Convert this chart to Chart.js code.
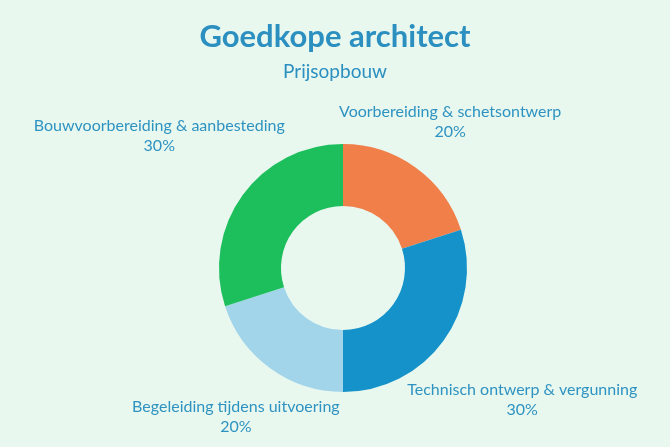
<!DOCTYPE html>
<html>
<head>
<meta charset="utf-8">
<script src="https://cdn.jsdelivr.net/npm/chart.js@4"></script>
<style>
  html, body { margin: 0; padding: 0; background: #e8f8ef; }
  #wrap { width: 670px; height: 447px; }
</style>
</head>
<body>
<div id="wrap"><canvas id="chart" width="670" height="447"></canvas></div>
<script>
const titleText = "Goedkope architect";
const subtitleText = "Prijsopbouw";
const categories = [
    "Voorbereiding & schetsontwerp",
    "Technisch ontwerp & vergunning",
    "Begeleiding tijdens uitvoering",
    "Bouwvoorbereiding & aanbesteding"
];
const shares = [20, 30, 20, 30];
const sliceColors = ["#f07f4a", "#1592c9", "#a3d5ea", "#1dbf5c"];

const textColor = "#2f93c2";

// labels outside the ring, pushed out along the slice middle until the text box clears the ring
const outsideLabels = {
    id: "outsideLabels",
    afterDraw(chart) {
        const ctx = chart.ctx;
        const meta = chart.getDatasetMeta(0);
        ctx.save();
        ctx.font = "16px Lato";
        ctx.fillStyle = textColor;
        ctx.textAlign = "center";
        ctx.textBaseline = "middle";
        const lineH = 19.5;
        meta.data.forEach((arc, i) => {
            const p = arc.getProps(["x", "y", "startAngle", "endAngle", "outerRadius"], true);
            const mid = (p.startAngle + p.endAngle) / 2;
            const lines = [categories[i], shares[i] + "%"];
            const hw = Math.max(...lines.map(l => ctx.measureText(l).width)) / 2;
            const hh = lineH;
            const target = p.outerRadius + 4;
            const cosA = Math.cos(mid), sinA = Math.sin(mid);
            let lo = 0, hi = 400;
            for (let k = 0; k < 40; k++) {
                const d = (lo + hi) / 2;
                const cx = cosA * d, cy = sinA * d;
                const dx = Math.max(Math.abs(cx) - hw, 0);
                const dy = Math.max(Math.abs(cy) - hh, 0);
                if (Math.hypot(dx, dy) < target) lo = d; else hi = d;
            }
            const cx = p.x + cosA * hi, cy = p.y + sinA * hi + 1.5;
            ctx.fillText(lines[0], cx, cy - lineH / 2);
            ctx.fillText(lines[1], cx, cy + lineH / 2);
        });
        ctx.restore();
    }
};

const headings = {
    id: "headings",
    afterDraw(chart) {
        const ctx = chart.ctx;
        ctx.save();
        ctx.fillStyle = "#2b8fc0";
        ctx.textAlign = "center";
        ctx.textBaseline = "middle";
        ctx.font = "bold 31px Lato";
        ctx.fillText(titleText, 335, 37);
        ctx.font = "19px Lato";
        ctx.fillText(subtitleText, 335, 72);
        ctx.restore();
    }
};

new Chart(document.getElementById("chart").getContext("2d"), {
    type: "doughnut",
    data: {
        labels: categories,
        datasets: [{
            data: shares,
            backgroundColor: sliceColors,
            borderWidth: 0,
            hoverOffset: 0
        }]
    },
    options: {
        responsive: false,
        animation: false,
        cutout: "50%",
        layout: {padding: {top: 144, bottom: 55, left: 16, right: 0}},
        plugins: {
            legend: {display: false},
            tooltip: {enabled: false},
            title: {display: false}
        }
    },
    plugins: [outsideLabels, headings]
});
</script>
</body>
</html>
